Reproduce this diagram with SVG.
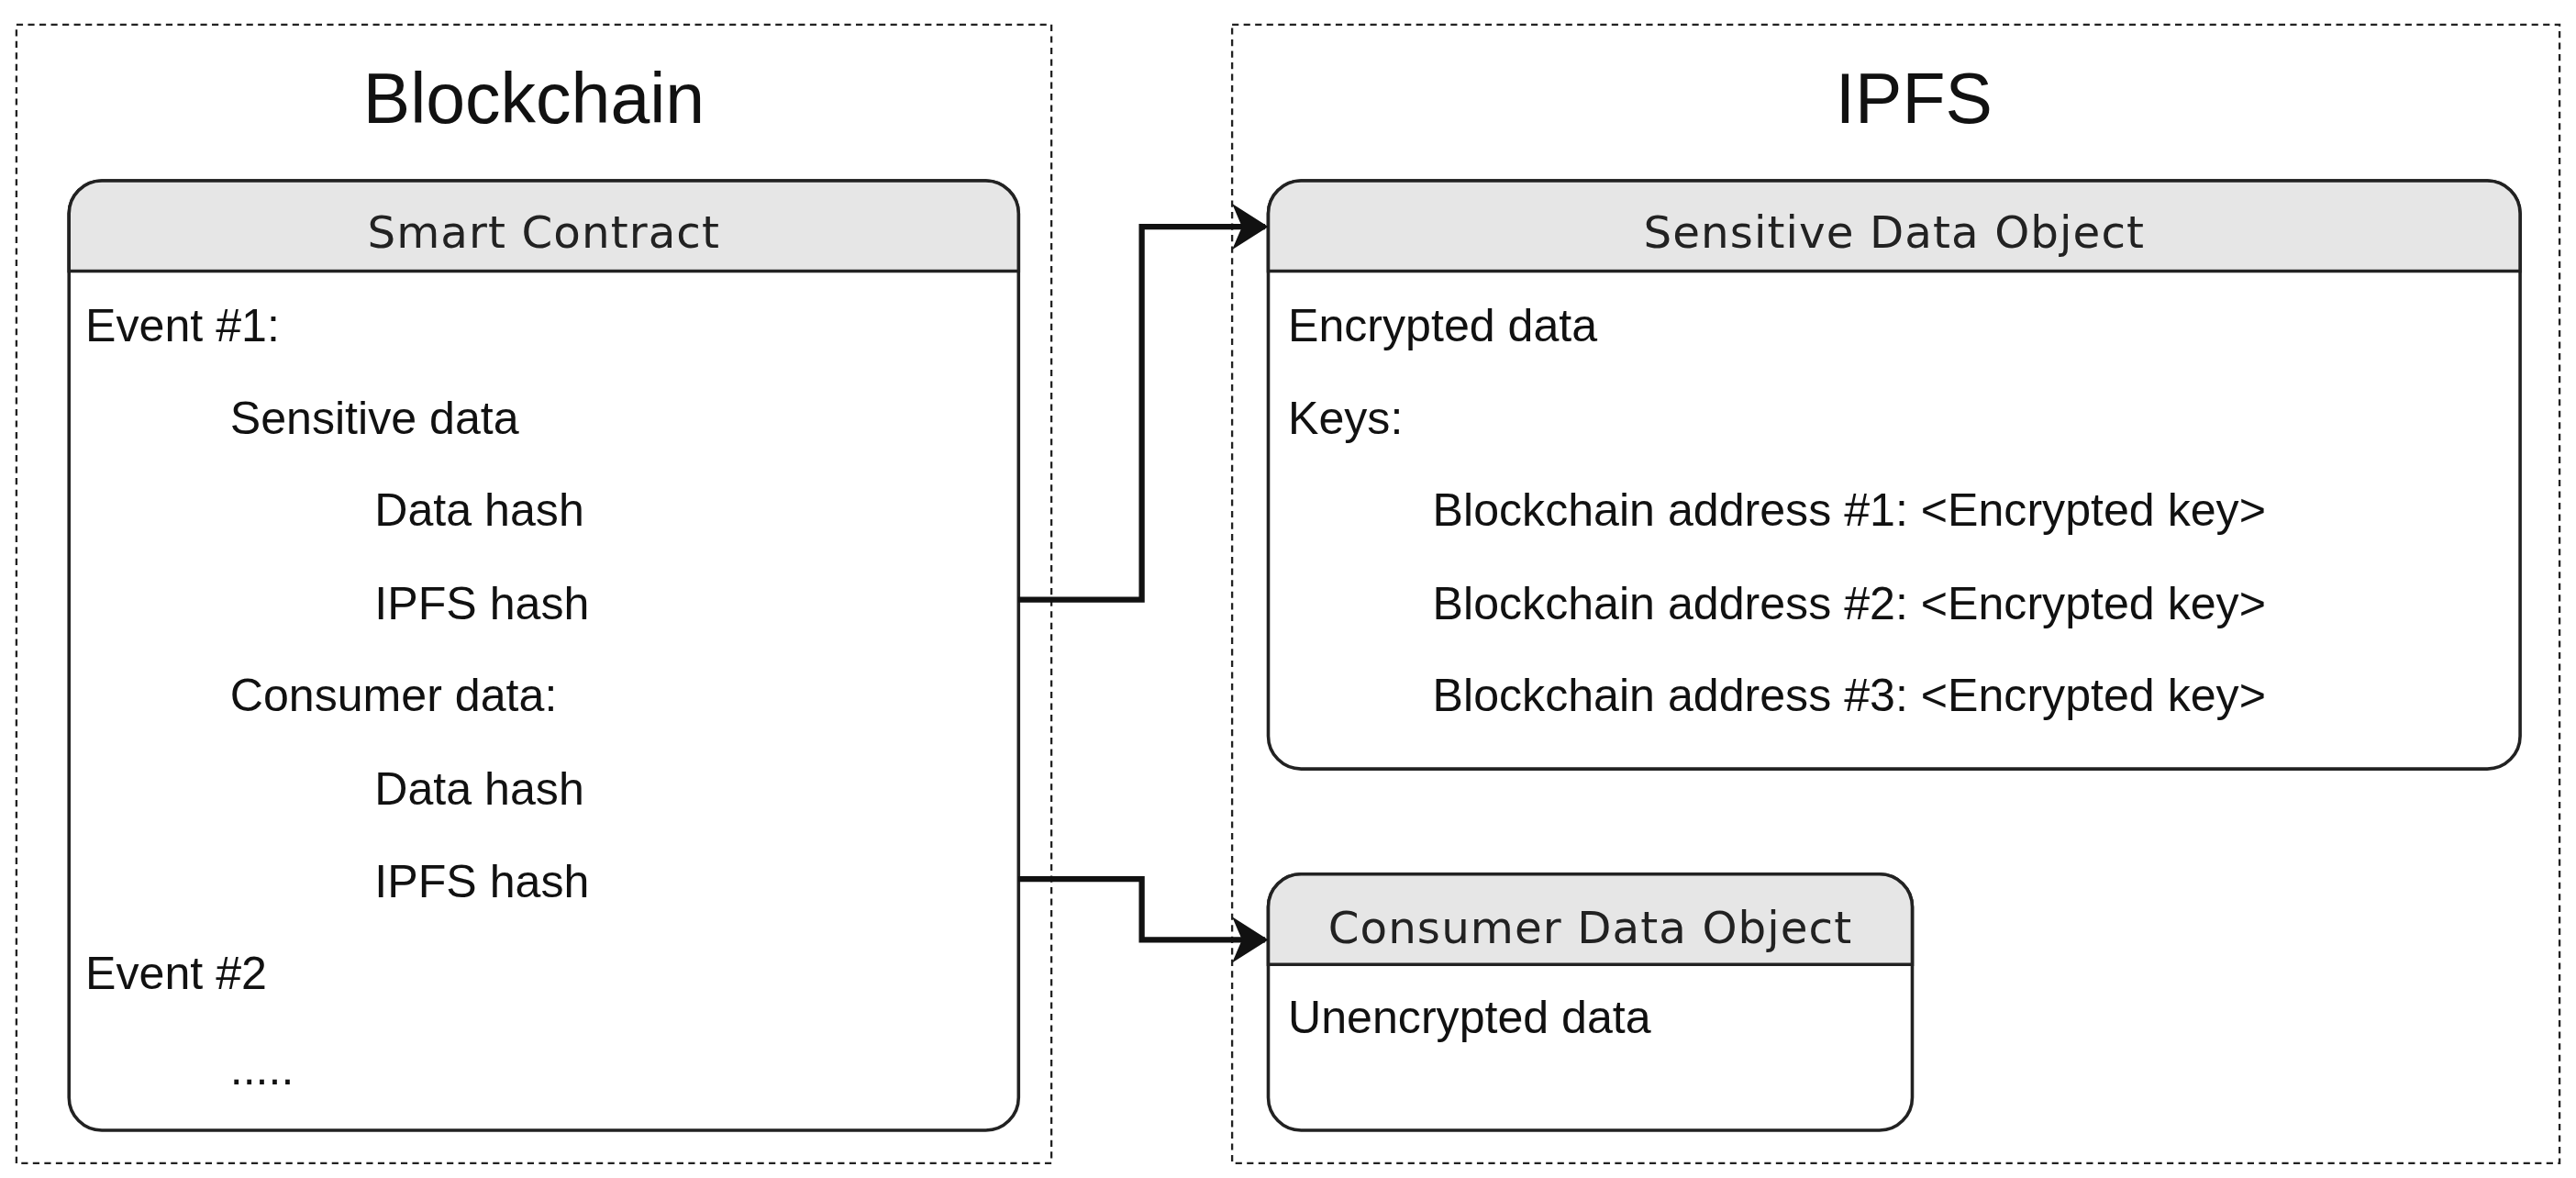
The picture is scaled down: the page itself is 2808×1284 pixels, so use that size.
<svg xmlns="http://www.w3.org/2000/svg" width="2808" height="1284" viewBox="0 0 2808 1284">
<style>
.grp{fill:none;stroke:#222;stroke-width:1.3;stroke-dasharray:4 3}
.box{fill:#fff;stroke:#222;stroke-width:2}
.hdr{fill:#e6e6e6;stroke:#222;stroke-width:2}
.ht{font-family:"DejaVu Sans",sans-serif;font-size:27px;letter-spacing:0.6px;fill:#222;text-anchor:middle}
.t{font-family:"Liberation Sans",Arial,sans-serif;font-size:28px;fill:#111}
.title{font-family:"Liberation Sans",Arial,sans-serif;font-size:43px;fill:#111;text-anchor:middle}
.con{fill:none;stroke:#111;stroke-width:3.5}
</style>
<defs>
<marker id="arr" markerWidth="22" markerHeight="28" refX="20" refY="14" orient="auto" markerUnits="userSpaceOnUse" viewBox="0 0 22 28"><path d="M0,0 L22,14 L0,28 L6,14 Z" fill="#111"/></marker>
</defs>
<rect width="2808" height="1284" fill="#fff"/>
<g transform="scale(1.7908)">
<g id="blockchain">
<rect class="grp" x="10" y="15" width="630" height="693"/>
<text class="title" x="325" y="75">Blockchain</text>
</g>
<g id="ipfs">
<rect class="grp" x="750" y="15" width="808" height="693"/>
<text class="title" x="1165" y="75">IPFS</text>
</g>
<g id="smart-contract">
<rect class="box" x="42" y="110" width="578" height="578" rx="20"/>
<path class="hdr" d="M42,165 V130 A20,20 0 0 1 62,110 H600 A20,20 0 0 1 620,130 V165 Z"/>
<text class="ht" x="331" y="151">Smart Contract</text>
<text class="t" x="52" y="208">Event #1:</text>
<text class="t" x="140" y="264">Sensitive data</text>
<text class="t" x="228" y="320">Data hash</text>
<text class="t" x="228" y="377">IPFS hash</text>
<text class="t" x="140" y="433">Consumer data:</text>
<text class="t" x="228" y="490">Data hash</text>
<text class="t" x="228" y="546">IPFS hash</text>
<text class="t" x="52" y="602">Event #2</text>
<text class="t" x="140" y="660">.....</text>
</g>
<g id="sensitive-data-object">
<rect class="box" x="772" y="110" width="762" height="358" rx="20"/>
<path class="hdr" d="M772,165 V130 A20,20 0 0 1 792,110 H1514 A20,20 0 0 1 1534,130 V165 Z"/>
<text class="ht" x="1153" y="151">Sensitive Data Object</text>
<text class="t" x="784" y="208">Encrypted data</text>
<text class="t" x="784" y="264">Keys:</text>
<text class="t" x="872" y="320">Blockchain address #1: &lt;Encrypted key&gt;</text>
<text class="t" x="872" y="377">Blockchain address #2: &lt;Encrypted key&gt;</text>
<text class="t" x="872" y="433">Blockchain address #3: &lt;Encrypted key&gt;</text>
</g>
<g id="consumer-data-object">
<rect class="box" x="772" y="532" width="392" height="156" rx="20"/>
<path class="hdr" d="M772,587 V552 A20,20 0 0 1 792,532 H1144 A20,20 0 0 1 1164,552 V587 Z"/>
<text class="ht" x="968" y="574">Consumer Data Object</text>
<text class="t" x="784" y="629">Unencrypted data</text>
</g>
</g>
<g id="connectors" transform="scale(1.7908)">
<path class="con" d="M620,365 H695 V138 H770" marker-end="url(#arr)"/>
<path class="con" d="M620,535 H695 V572 H770" marker-end="url(#arr)"/>
</g>
</svg>
